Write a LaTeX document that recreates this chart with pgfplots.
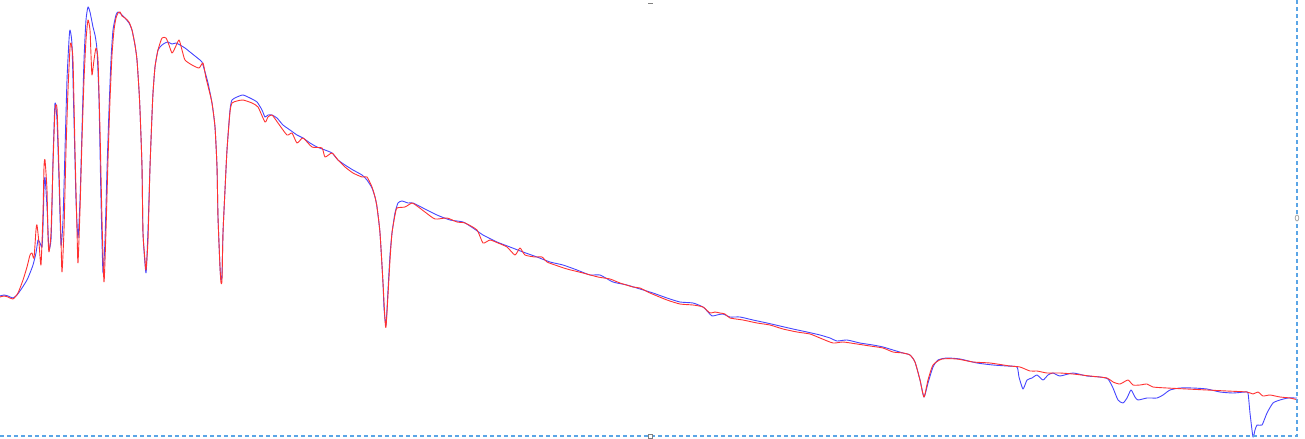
\documentclass[border=0pt]{standalone}
\usepackage{pgfplots}
\pgfplotsset{compat=1.18}
\definecolor{cblue}{RGB}{70,70,255}
\definecolor{cred}{RGB}{255,50,50}
\definecolor{cframe}{RGB}{90,165,230}
\begin{document}
\begin{tikzpicture}
\begin{axis}[
  at={(0,0)}, anchor=south west,
  width=1305bp, height=439bp, scale only axis,
  xmin=0, xmax=1305, ymin=0, ymax=439, y dir=reverse,
  hide axis, clip=false,
]
\addplot[cblue, line width=0.9bp, line join=round, smooth, tension=0.35] coordinates {
(0,296)(4,295)(8,296)(13,298)(17,295)(22,288)(27,280)(30,273)(33,265)(36,253)(38,240)(40,243)(42,247)(43,227)(44,190)(45,177)(47,207)(48,230)(49,250)(51,240)(52,207)(53,160)(55,103)(57,120)(59,180)(61,245)(63,220)(65,150)(67,80)(69,40)(70,30)(72,45)(74,120)(76,200)(78,238)(80,200)(82,130)(84,60)(86,20)(88,7)(90,12)(93,27)(95,35)(97,50)(99,100)(101,200)(103,273)(105,240)(107,170)(109,110)(111,60)(113,30)(116,15)(118,12)(121,14)(125,18)(129,23)(132,30)(135,45)(137,60)(139,90)(140,110)(142,167)(143,233)(146,273)(148,230)(150,167)(152,115)(153,93)(155,67)(158,50)(162,45)(165,43)(168,42)(172,44)(176,43)(180,45)(185,48)(190,52)(195,56)(200,60)(202,62)(205,72)(208,83)(212,103)(215,127)(217,167)(218,217)(220,267)(221,280)(222,275)(223,233)(225,190)(227,150)(230,110)(232,100)(237,97)(243,95)(250,98)(257,102)(262,110)(265,117)(268,115)(272,115)(277,118)(283,125)(290,130)(297,135)(303,138)(310,143)(317,147)(325,150)(332,153)(338,160)(345,165)(353,170)(362,175)(367,180)(372,188)(375,197)(377,207)(380,233)(383,283)(384,308)(386,325)(388,290)(390,255)(392,233)(395,213)(398,203)(402,201)(408,203)(413,203)(423,208)(437,215)(450,220)(463,222)(473,228)(483,235)(497,242)(510,247)(523,252)(537,257)(550,262)(563,265)(577,270)(590,275)(600,275)(613,282)(627,285)(640,289)(653,293)(667,298)(680,302)(693,303)(703,307)(708,312)(712,316)(717,315)(723,314)(730,317)(740,317)(753,320)(767,323)(780,326)(793,329)(807,332)(820,335)(830,338)(837,341)(847,340)(860,343)(873,345)(883,347)(893,350)(903,353)(910,355)(915,362)(920,380)(924,397)(928,383)(933,367)(938,360)(947,358)(960,359)(977,363)(993,365)(1007,366)(1017,367)(1019,377)(1023,389)(1027,380)(1032,378)(1037,375)(1043,380)(1048,375)(1053,373)(1060,376)(1073,373)(1087,376)(1100,377)(1108,379)(1113,388)(1118,400)(1123,403)(1127,398)(1131,390)(1135,397)(1138,400)(1147,398)(1157,398)(1163,395)(1170,390)(1180,388)(1193,388)(1207,389)(1220,392)(1233,393)(1245,392)(1248,393)(1250,413)(1253,437)(1255,430)(1257,425)(1262,425)(1267,413)(1273,403)(1280,400)(1288,398)(1297,398)
};
\addplot[cred, line width=0.9bp, line join=round, smooth, tension=0.35] coordinates {
(0,297)(4,296)(8,297)(13,299)(18,293)(23,280)(27,267)(30,255)(32,253)(34,258)(36,230)(37,225)(39,243)(41,265)(43,213)(44,167)(45,160)(47,190)(48,237)(49,252)(51,233)(53,165)(55,110)(57,108)(59,170)(61,240)(62,272)(64,230)(66,150)(68,90)(70,48)(71,43)(73,60)(75,150)(77,230)(78,263)(80,210)(82,140)(84,80)(86,40)(88,20)(90,30)(91,55)(92,75)(94,60)(96,48)(98,60)(100,130)(102,220)(104,282)(106,230)(108,160)(110,100)(112,55)(114,30)(116,18)(118,13)(120,12)(122,16)(125,18)(129,22)(132,30)(135,45)(137,60)(139,90)(140,110)(142,167)(143,233)(145,260)(146,270)(148,240)(150,167)(152,115)(153,93)(155,67)(158,50)(162,38)(166,38)(169,45)(172,53)(175,48)(179,40)(182,50)(185,60)(192,65)(199,68)(203,63)(206,78)(209,90)(212,103)(215,127)(217,167)(218,217)(220,267)(221,283)(222,280)(223,233)(225,190)(227,150)(230,112)(232,103)(237,101)(243,100)(252,103)(258,107)(265,122)(268,117)(272,115)(278,123)(287,135)(292,133)(297,143)(303,138)(312,147)(322,148)(325,157)(332,153)(338,160)(345,167)(353,173)(362,177)(367,177)(372,187)(375,197)(377,207)(380,233)(383,283)(385,320)(386,327)(388,295)(390,260)(392,233)(395,215)(397,208)(405,207)(412,203)(417,206)(425,212)(435,219)(447,218)(457,222)(465,223)(477,230)(483,243)(490,240)(498,243)(507,247)(515,255)(520,248)(525,255)(535,257)(542,257)(547,262)(555,265)(567,269)(583,273)(598,277)(610,279)(620,283)(633,287)(640,288)(650,293)(667,300)(680,304)(693,305)(703,307)(710,313)(715,312)(720,313)(725,314)(730,318)(743,320)(757,323)(770,325)(783,329)(797,332)(810,334)(820,338)(833,343)(843,342)(857,344)(870,346)(883,348)(893,352)(903,353)(910,355)(915,362)(920,380)(924,397)(928,380)(933,365)(942,359)(957,359)(973,362)(990,363)(1010,366)(1020,367)(1030,371)(1037,371)(1047,373)(1060,373)(1073,374)(1090,376)(1107,378)(1113,382)(1120,384)(1128,380)(1133,385)(1140,385)(1147,384)(1153,387)(1167,388)(1187,389)(1207,390)(1227,391)(1247,392)(1253,394)(1258,392)(1263,396)(1270,395)(1280,397)(1290,398)(1298,400)
};
\draw[cframe, line width=1.2bp, dash pattern=on 4bp off 3bp] (axis cs:0,436) -- (axis cs:1297,436) -- (axis cs:1297,0);
\draw[gray, line width=1bp] (axis cs:648,4) -- (axis cs:653,4);
\draw[gray, fill=white, line width=0.8bp] (axis cs:648,434) rectangle (axis cs:652,438);
\draw[gray!70, fill=white, line width=0.8bp] (axis cs:1297,218) ellipse [x radius=1.8bp, y radius=3bp];
\end{axis}
\pgfresetboundingbox
\useasboundingbox (0,0) rectangle (1305bp,439bp);
\end{tikzpicture}
\end{document}
